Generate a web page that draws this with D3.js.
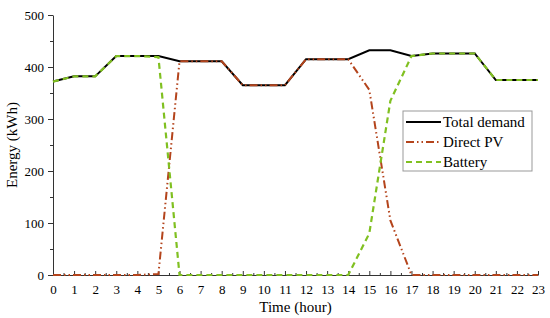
<!DOCTYPE html>
<html>
<head>
<meta charset="utf-8">
<script src="https://cdn.jsdelivr.net/npm/d3@7"></script>
<style>
  body { margin: 0; background: #fff; }
</style>
</head>
<body>
<div id="chart"></div>
<script>
const width = 550,
    height = 318;
const serif = "'Liberation Serif', 'Times New Roman', serif";

// hours 0..23
const hours = d3.range(0, 24);
const totalDemand = [372, 382, 382, 421, 421, 421, 411, 411, 411, 365, 365, 365,
    415, 415, 415, 432, 432, 421, 426, 426, 426, 375, 375, 375];
const directPV = [0, 0, 0, 0, 0, 2, 411, 411, 411, 365, 365, 365,
    415, 415, 415, 356, 105, 0, 0, 0, 0, 0, 0, 0];
const battery = [372, 382, 382, 421, 421, 419, 0, 0, 0, 0, 0, 0,
    0, 0, 0, 80, 335, 421, 426, 426, 426, 375, 375, 375];
const yTicks = [0, 100, 200, 300, 400, 500];
const seriesNames = ["Total demand", "Direct PV", "Battery"];

const margin = {left: 53, right: 12, top: 15, bottom: 43};

let svg = d3.select('#chart').append('svg')
    .attr('width', width)
    .attr('height', height)
    .style("font-family", serif);

let x = d3.scaleLinear().domain([0, 23]).range([margin.left, width - margin.right]);
let y = d3.scaleLinear().domain([0, 500]).range([height - margin.bottom, margin.top]);

// x axis: minor half-hour ticks, major hour ticks pointing up
svg.append("g")
    .attr("transform", `translate(0,${y(0)})`)
    .call(d3.axisBottom(x).tickValues(d3.range(0.5, 23, 1)).tickSize(-2).tickFormat(""))
    .call(g => g.select(".domain").remove());
svg.append("g")
    .attr("transform", `translate(0,${y(0)})`)
    .call(d3.axisBottom(x).tickValues(hours).tickSize(-4).tickSizeOuter(0).tickPadding(10))
    .call(g => g.attr("font-family", serif).attr("font-size", 13));

// y axis: minor ticks at 50s, major at 100s
svg.append("g")
    .attr("transform", `translate(${x(0)},0)`)
    .call(d3.axisLeft(y).tickValues([50, 150, 250, 350, 450]).tickSize(3).tickFormat(""))
    .call(g => g.select(".domain").remove());
svg.append("g")
    .attr("transform", `translate(${x(0)},0)`)
    .call(d3.axisLeft(y).tickValues(yTicks).tickSize(5).tickSizeOuter(0).tickPadding(4))
    .call(g => g.attr("font-family", serif).attr("font-size", 13));

svg.selectAll(".tick line, .domain").attr("stroke", "#333");

// axis titles
svg.append("text")
    .attr("x", (x(0) + x(23)) / 2)
    .attr("y", 312)
    .attr("text-anchor", "middle")
    .style("font-size", "15px")
    .text("Time (hour)");

svg.append("text")
    .attr("transform", `translate(17,${y(250)}) rotate(-90)`)
    .attr("text-anchor", "middle")
    .style("font-size", "15px")
    .text("Energy (kWh)");

const series = [
    {name: seriesNames[0], values: totalDemand, color: "#000", dash: null, width: 2},
    {name: seriesNames[1], values: directPV, color: "#b4441c", dash: "8,3,1.5,3,1.5,3", width: 2},
    {name: seriesNames[2], values: battery, color: "#80c021", dash: "6,4", width: 2.2}
];

let line = d3.line()
    .x((d, i) => x(hours[i]))
    .y(d => y(d));

svg.append("g")
    .selectAll("path")
    .data(series)
    .enter()
    .append("path")
    .attr("d", d => line(d.values))
    .attr("fill", "none")
    .attr("stroke", d => d.color)
    .attr("stroke-width", d => d.width)
    .attr("stroke-dasharray", d => d.dash);

// legend
let legend = svg.append("g").attr("transform", "translate(403,111)");
legend.append("rect")
    .attr("width", 129)
    .attr("height", 60)
    .attr("fill", "#fff")
    .attr("stroke", "#999");

let items = legend.selectAll(".item")
    .data(series)
    .enter()
    .append("g")
    .attr("transform", (d, i) => `translate(0,${11 + i * 20})`);

items.append("line")
    .attr("x1", 3)
    .attr("x2", 38)
    .attr("stroke", d => d.color)
    .attr("stroke-width", 2)
    .attr("stroke-dasharray", d => d.dash);

items.append("text")
    .attr("x", 40)
    .attr("y", 5)
    .style("font-size", "15px")
    .text(d => d.name);
</script>
</body>
</html>
